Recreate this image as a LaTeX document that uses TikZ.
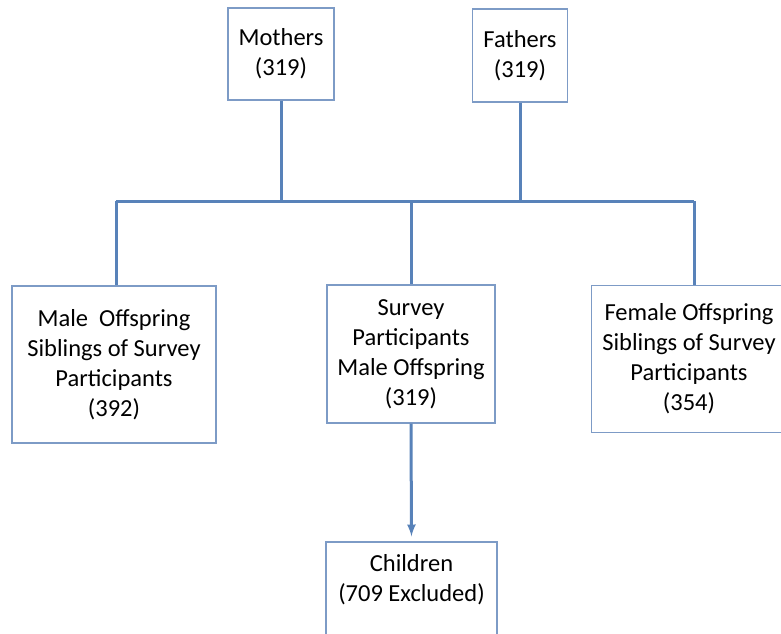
\documentclass[tikz,border=0pt]{standalone}
\usepackage{fontspec}
\setmainfont{Carlito}
\usetikzlibrary{calc}
\definecolor{boxblue}{RGB}{125,155,198}
\definecolor{lineblue}{RGB}{88,130,185}

\begin{document}
\begin{tikzpicture}[x=1pt, y=-1pt,
	box/.style={draw=boxblue, line width=1.4pt, fill=white, align=center, inner sep=0pt, font=\fontsize{24.5}{30}\selectfont},
	link/.style={draw=lineblue, line width=3pt}]
	\useasboundingbox (0,0) rectangle (781,633);
	\clip (0,0) rectangle (781,633);
	% parents
	\node[box, minimum width=106, minimum height=92] (mothers) at (281,54) {Mothers\\(319)};
	\node[box, minimum width=95, minimum height=93] (fathers) at (520,55.5) {Fathers\\(319)};
	% offspring
	\node[box, minimum width=204, minimum height=157] (malesib) at (114,364.5) {Male\ \ Offspring\\Siblings of Survey\\Participants\\(392)};
	\node[box, minimum width=168, minimum height=138] (survey) at (411,354) {Survey\\Participants\\Male Offspring\\(319)};
	\node[box, minimum width=195, minimum height=147] (femsib) at (689,359) {Female Offspring\\Siblings of Survey\\Participants\\(354)};
	\node[box, minimum width=171, minimum height=102] (children) at (411.5,593) {Children\\(709 Excluded)\\ };
	% bus
	\coordinate (busL) at (116,201);
	\coordinate (busR) at (694,201);
	\draw[link] (busL) -- (busR);
	\draw[link] (mothers.south) -- (mothers.south |- busL);
	\draw[link] (fathers.south) -- (fathers.south |- busL);
	\draw[link] (busL) -- (busL |- malesib.north);
	\draw[link] (survey.north |- busL) -- (survey.north);
	\draw[link] (busR) -- (busR |- femsib.north);
	\draw[link, -latex, shorten >=5pt] (survey.south) -- (children.north);
\end{tikzpicture}
\end{document}
